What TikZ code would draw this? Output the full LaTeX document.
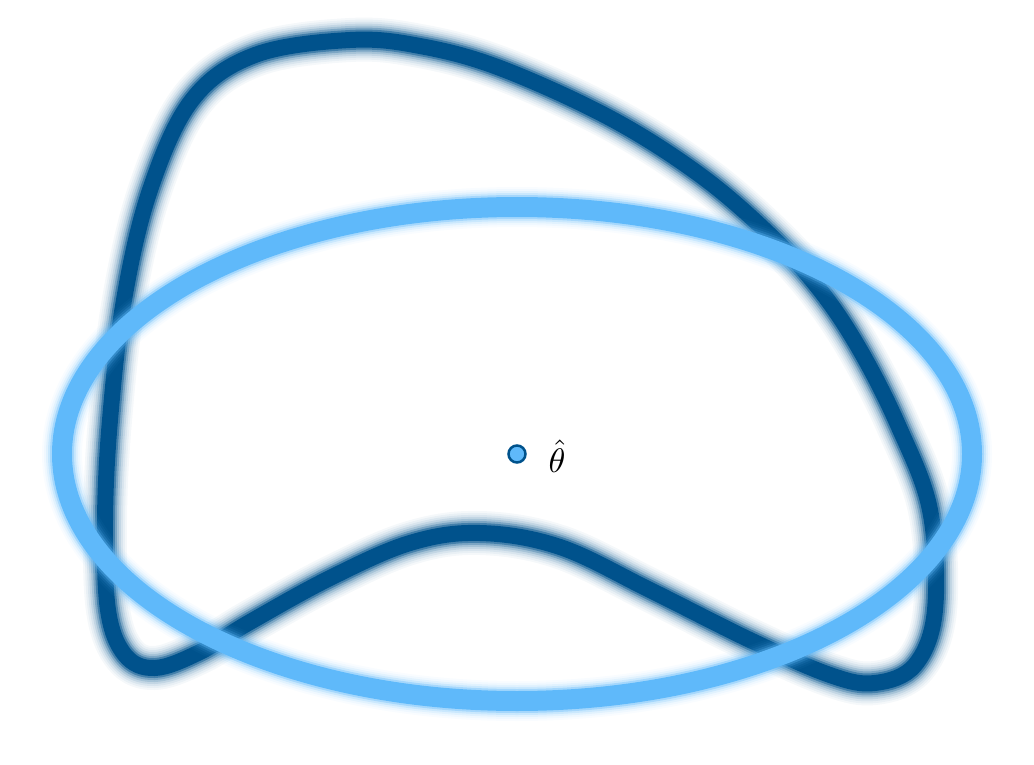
\documentclass[tikz,border=0pt]{standalone}
\begin{document}
\begin{tikzpicture}[x=1pt,y=-1pt]
\definecolor{darkblue}{RGB}{0,82,140}
\definecolor{lightblue}{RGB}{95,185,250}
\tikzset{
  darkcurve/.style={draw=darkblue,line join=round},
  lightellipse/.style={draw=lightblue},
  dotstyle/.style={circle,fill=lightblue,draw=darkblue,line width=2.5pt,minimum size=17pt,inner sep=0pt},
}
\useasboundingbox (0,0) rectangle (1034,765);
\def\darkpath{plot[smooth cycle,tension=0.6] coordinates {
 (350,40) (255,55) (192,100) (150,190) (124,300) (110,420) (105,520) (108,610) (125,655) (155,668) (200,652) (250,622) (330,578) (410,543) (480,533) (560,547) (650,590) (750,640) (830,675) (875,683) (915,665) (935,610) (930,510) (898,425) (860,350) (820,290) (770,235) (700,175) (610,118) (500,68) (420,46)}}
% blurred dark curve
\foreach \w/\o in {44/0.04,40/0.05,36/0.07,32/0.1,28/0.15,24/0.25,20/0.45,16/1}{
  \draw[darkcurve,line width=\w pt,opacity=\o] \darkpath;
}
% blurred light ellipse
\foreach \w/\o in {40/0.04,36/0.06,32/0.1,28/0.18,24/0.35,20/1}{
  \draw[lightellipse,line width=\w pt,opacity=\o] (517,454) ellipse [x radius=455,y radius=247];
}
\node[dotstyle] (th) at (517,454) {};
\node[scale=3.4] (lab) at (557,456) {$\hat\theta$};
\end{tikzpicture}
\end{document}
